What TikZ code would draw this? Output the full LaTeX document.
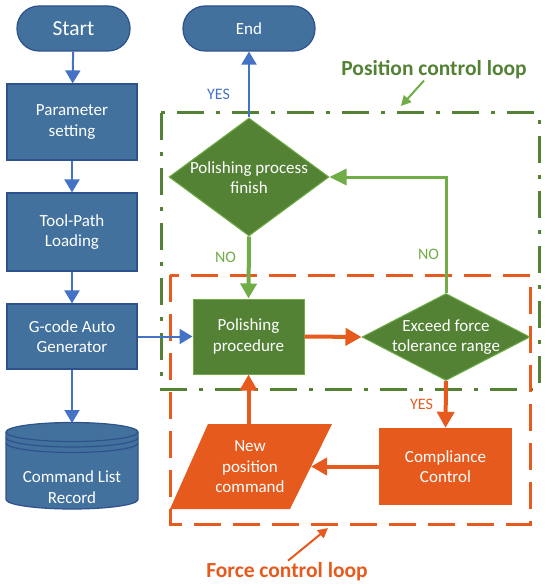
\documentclass[tikz,border=0pt]{standalone}
\usepackage{fontspec}
\setmainfont{Carlito}
\usetikzlibrary{shapes.geometric,arrows.meta}
\definecolor{bfill}{HTML}{41719C}
\definecolor{bline}{HTML}{2F528F}
\definecolor{barrow}{HTML}{4472C4}
\definecolor{gdark}{HTML}{548235}
\definecolor{glight}{HTML}{70AD47}
\definecolor{orng}{HTML}{E65A1E}
\tikzset{
  txt/.style={font=\fontsize{17}{20.5}\selectfont, text=white, align=center},
  term/.style={txt, rectangle, rounded corners=22pt, fill=bfill, draw=bline, line width=1.2pt},
  bbox/.style={txt, rectangle, minimum width=130pt, fill=bfill, draw=bline, line width=1.2pt},
  gbox/.style={txt, rectangle, fill=gdark, draw=glight, line width=1pt},
  gdia/.style={diamond, fill=gdark, draw=glight, line width=1pt, inner sep=0pt},
  obox/.style={txt, rectangle, fill=orng},
  inlbl/.style={txt},
  lbl/.style={font=\fontsize{16}{18}\selectfont},
  looplbl/.style={font=\fontsize{21.5}{24}\selectfont\bfseries, inner sep=1pt},
  barr/.style={draw=barrow, line width=2pt, -{Triangle[length=13pt,width=15pt]}},
  garr/.style={draw=glight, line width=4pt, -{Triangle[length=15pt,width=16pt]}},
  gloop/.style={draw=glight, line width=3pt, -{Triangle[length=17pt,width=16pt]}},
  oarr/.style={draw=orng, line width=4pt, -{Triangle[length=16pt,width=17pt]}},
  larr/.style={line width=2pt, -{Triangle[length=10pt,width=10pt]}},
  gdash/.style={draw=gdark, line width=3pt, dash pattern=on 27pt off 12pt on 4pt off 12pt},
  odash/.style={draw=orng, line width=3pt, dash pattern=on 27pt off 12pt},
}
\begin{document}
\begin{tikzpicture}[x=1pt,y=-1pt]
\useasboundingbox (0,0) rectangle (550,588);

% loop frames
\draw[gdash] (161,113) rectangle (539,389);
\draw[odash] (170,275) rectangle (530,524);

% left column
\node[term, minimum width=113pt, minimum height=45pt, font=\fontsize{21.5}{24}\selectfont] (start) at (73.5,28.5) {Start};
\node[term, minimum width=132pt, minimum height=45pt] (end) at (249,28.5) {End};
\node[bbox, minimum height=76pt] (param) at (72,122) {Parameter\\setting};
\node[bbox, minimum height=78pt] (tool) at (72,232) {Tool-Path\\Loading};
\node[bbox, minimum height=65pt] (gcode) at (72,336.5) {G-code Auto\\Generator};

% cylinder
\fill[bfill] (6,432) -- (6,499.5) arc[start angle=180, end angle=0, x radius=66, y radius=9.5] -- (138,432) arc[start angle=0, end angle=-180, x radius=66, y radius=9.5] -- cycle;
\draw[bline, line width=1.2pt] (6,432) -- (6,499.5) arc[start angle=180, end angle=0, x radius=66, y radius=9.5] -- (138,432);
\draw[bline, line width=1.2pt] (72,432) ellipse[x radius=66, y radius=9.5];
\draw[bline, line width=1.2pt] (6,437.5) arc[start angle=180, end angle=0, x radius=66, y radius=9.5];
\draw[bline, line width=1.2pt] (6,443) arc[start angle=180, end angle=0, x radius=66, y radius=9.5];
\coordinate (cmdtop) at (72,423);
\node[inlbl] (cmd) at (72,487) {Command List\\Record};

% right part
\node[gdia, minimum width=160pt, minimum height=118pt] (finish) at (249,177) {};
\node[inlbl] (finishtxt) at (249,177.5) {Polishing process\\finish};
\node[gbox, minimum width=111pt, minimum height=75pt] (pp) at (248.5,336.5) {Polishing\\procedure};
\node[gdia, minimum width=168pt, minimum height=87pt] (exceed) at (446,337) {};
\node[inlbl] (exceedtxt) at (446,337) {Exceed force\\tolerance range};
\node[obox, minimum width=133pt, minimum height=77pt] (cc) at (445.5,466.5) {Compliance\\Control};
% parallelogram
\fill[orng] (170,509) -- (208,424) -- (332,424) -- (290,509) -- cycle;
\coordinate (nptop) at (248.5,424);
\coordinate (npright) at (311,466.5);
\node[inlbl] (nptxt) at (250,467) {New\\position\\command};

% connectors
\draw[barr] (start) -- (param);
\draw[barr] (param) -- (tool);
\draw[barr] (tool) -- (gcode);
\draw[barr] (gcode) -- (cmdtop);
\draw[barr] (gcode.east) -- (pp.west);
\draw[barr] (finish.north) -- (end.south);
\draw[garr] (finish.south) -- (pp.north);
\draw[oarr] (pp.east) -- (exceed.west);
\draw[gloop] (exceed.north) |- (finish.east);
\draw[oarr] (exceed.south) -- (cc.north);
\draw[oarr] (cc.west) -- (npright);
\draw[oarr] (nptop) -- (pp.south);

% labels
\node[lbl, text=barrow] (yes1) at (218.5,94) {YES};
\node[lbl, text=glight] (no1) at (225.5,257.5) {NO};
\node[lbl, text=glight] (no2) at (428.5,254.5) {NO};
\node[lbl, text=orng] (yes2) at (421.5,404) {YES};

\node[looplbl, text=gdark, anchor=base] (plbl) at (434,76) {Position control loop};
\coordinate (pa) at (401,106);
\draw[larr, draw=glight, fill=glight] ([xshift=-10pt]plbl.south) -- (pa);
\node[looplbl, text=orng, anchor=base] (flbl) at (287,577) {Force control loop};
\coordinate (fa) at (328,528);
\draw[larr, draw=orng, fill=orng] ([xshift=1pt]flbl.north) -- (fa);
\end{tikzpicture}
\end{document}
